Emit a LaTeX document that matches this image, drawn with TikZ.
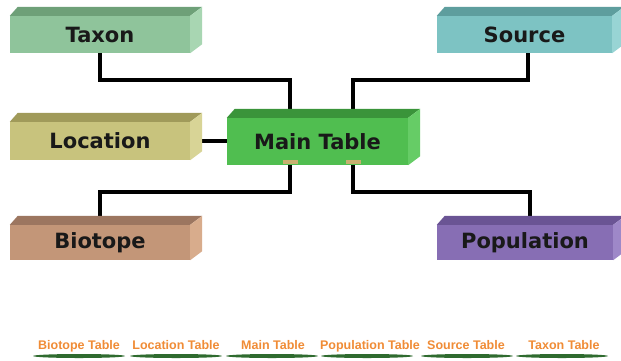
\documentclass[tikz,border=0pt]{standalone}
\usepackage{fontspec}
\setmainfont{DejaVu Sans}
\newfontfamily\legendfont{Liberation Sans}
\usetikzlibrary{calc}
\pgfdeclarelayer{background}
\pgfsetlayers{background,main}

\definecolor{taxF}{HTML}{8FC49B}\definecolor{taxT}{HTML}{6EA078}\definecolor{taxS}{HTML}{A8D6B2}
\definecolor{srcF}{HTML}{7DC3C3}\definecolor{srcT}{HTML}{5E9E9E}\definecolor{srcS}{HTML}{98D4D4}
\definecolor{locF}{HTML}{C8C37D}\definecolor{locT}{HTML}{A09A5A}\definecolor{locS}{HTML}{D8D496}
\definecolor{mainF}{HTML}{50BE50}\definecolor{mainT}{HTML}{3A943A}\definecolor{mainS}{HTML}{66CC66}
\definecolor{bioF}{HTML}{C39678}\definecolor{bioT}{HTML}{9C7660}\definecolor{bioS}{HTML}{D8AC8C}
\definecolor{popF}{HTML}{876EB4}\definecolor{popT}{HTML}{6A5494}\definecolor{popS}{HTML}{9E88C8}
\definecolor{legOrange}{HTML}{F08C36}
\definecolor{legGreen}{HTML}{2F6B2F}
\definecolor{markTan}{HTML}{C8B070}

\newcommand\mycuboid[3]{%
  \fill[#2] (#1.north west) -- ++(8,-9) -- ($(#1.north east)+(12,-9)$) -- (#1.north east) -- cycle;
  \fill[#3] (#1.north east) -- ++(12,-9) -- ($(#1.south east)+(12,-9)$) -- (#1.south east) -- cycle;
}

\begin{document}
\begin{tikzpicture}[x=1pt,y=-1pt,
  tablebox/.style={rectangle, inner sep=0pt, text=black!90,
    font=\fontsize{21}{25}\selectfont\bfseries},
  link/.style={line width=3.6pt, black},
  legendtext/.style={inner sep=0pt, anchor=base, text=legOrange,
    font=\legendfont\fontsize{12.5}{14}\selectfont\bfseries},
  legendstroke/.style={fill=legGreen, x radius=46, y radius=2}
]
\useasboundingbox (0,0) rectangle (621,360);

\node[tablebox, fill=taxF, minimum width=180pt, minimum height=37pt] (Taxon) at (100,34.5) {Taxon};
\node[tablebox, fill=srcF, minimum width=175pt, minimum height=37pt] (Source) at (524.5,34.5) {Source};
\node[tablebox, fill=locF, minimum width=180pt, minimum height=38pt] (Location) at (100,141) {Location};
\node[tablebox, fill=mainF, minimum width=181pt, minimum height=47pt] (Main) at (317.5,141.5) {Main Table};
\node[tablebox, fill=bioF, minimum width=180pt, minimum height=35pt] (Biotope) at (100,242.5) {Biotope};
\node[tablebox, fill=popF, minimum width=176pt, minimum height=35pt] (Population) at (525,242.5) {Population};

\mycuboid{Taxon}{taxT}{taxS}
\mycuboid{Source}{srcT}{srcS}
\mycuboid{Location}{locT}{locS}
\mycuboid{Main}{mainT}{mainS}
\mycuboid{Biotope}{bioT}{bioS}
\mycuboid{Population}{popT}{popS}

% small connection marks on the main table
\fill[markTan] ([xshift=-35pt,yshift=1pt]Main.south) rectangle ++(15,-4);
\fill[markTan] ([xshift=28pt,yshift=1pt]Main.south) rectangle ++(15,-4);

\begin{pgfonlayer}{background}
\fill[white] (0,0) rectangle (621,360);
\draw[link] (Taxon.south) -- ++(0,27) -| ([xshift=-27.5pt]Main.north);
\draw[link] ([xshift=3.5pt]Source.south) -- ++(0,27) -| ([xshift=35.5pt]Main.north);
\draw[link] (Location.east) -- (Location.east -| Main.west);
\draw[link] ([xshift=-27.5pt]Main.south) -- ++(0,27) -| (Biotope.north);
\draw[link] ([xshift=35.5pt]Main.south) -- ++(0,27) -| ([xshift=5pt]Population.north);
\end{pgfonlayer}

% legend
\fill[legendstroke] (79,356) ellipse [];
\fill[legendstroke] (176,356) ellipse [];
\fill[legendstroke] (272,356) ellipse [];
\fill[legendstroke] (367,356) ellipse [];
\fill[legendstroke] (467,356) ellipse [];
\fill[legendstroke] (562,356) ellipse [];
\node[legendtext] (lgBio) at (79,349.5) {Biotope Table};
\node[legendtext] (lgLoc) at (176,349.5) {Location Table};
\node[legendtext] (lgMain) at (273,349.5) {Main Table};
\node[legendtext] (lgPop) at (370,349.5) {Population Table};
\node[legendtext] (lgSrc) at (466,349.5) {Source Table};
\node[legendtext] (lgTax) at (564,349.5) {Taxon Table};
\end{tikzpicture}
\end{document}
